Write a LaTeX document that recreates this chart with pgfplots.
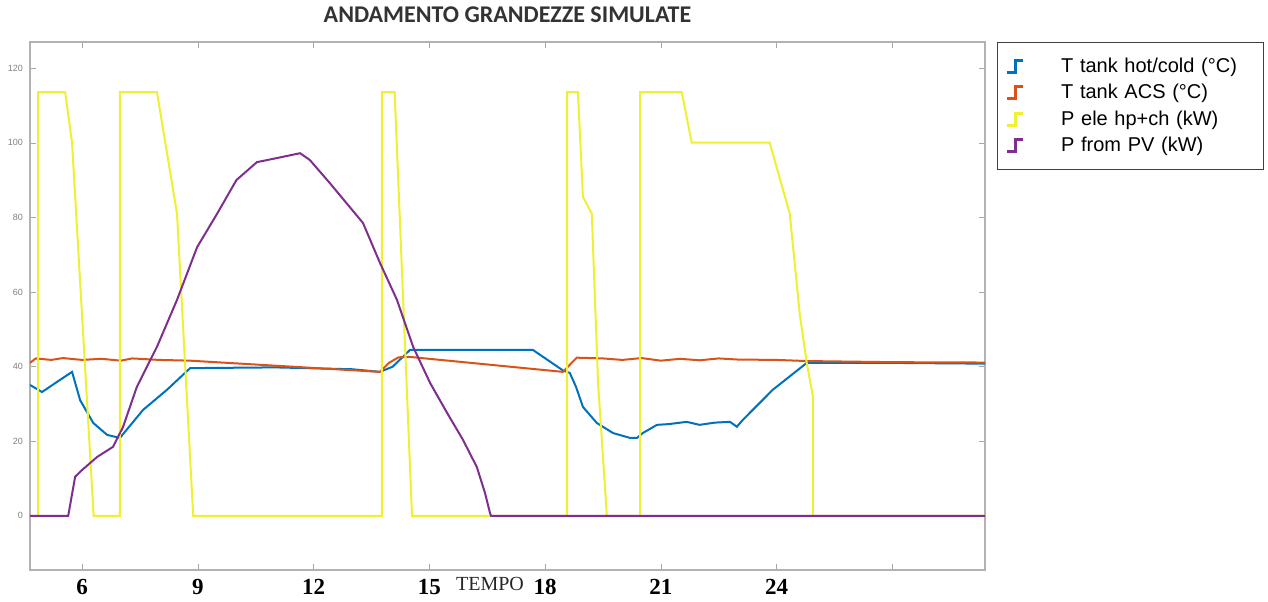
\documentclass[border=0pt]{standalone}
\usepackage{pgfplots}
\pgfplotsset{compat=1.18}
\usepackage{fontspec}
\setmainfont{Liberation Sans}
\newfontfamily\numfont{Liberation Serif}
\newfontfamily\titlefont{Carlito}

\definecolor{mblue}{RGB}{0,114,189}
\definecolor{morange}{RGB}{217,83,25}
\definecolor{myellow}{RGB}{240,240,50}
\definecolor{mpurple}{RGB}{126,47,142}

\begin{document}
\begin{tikzpicture}
% fixed page size: 1268x601 px at 0.5pt per px
\path[use as bounding box] (-15pt,-15.5pt) rectangle (619pt,285pt);
\begin{axis}[
    name=ax,
    at={(0,0)}, anchor=south west,
    scale only axis,
    width=477.5pt, height=264pt,
    xmin=4.65, xmax=29.4,
    ymin=-14.5, ymax=127,
    xtick={6,9,...,27},
    xticklabels={6,9,12,15,18,21,24,{}},
    ytick={0,20,...,120},
    tick align=inside,
    major tick length=3pt,
    tick style={gray!70},
    axis line style={gray!60, line width=0.8pt},
    x tick label style={font=\numfont\bfseries\fontsize{11.5}{13}\selectfont, yshift=-1pt},
    y tick label style={font=\fontsize{4.5}{5}\selectfont, text=gray},
    /pgf/number format/assume math mode=true,
    title={ANDAMENTO GRANDEZZE SIMULATE},
    title style={font=\titlefont\bfseries\fontsize{12}{14}\selectfont, text=black!80},
    legend style={at={(1.0126,1)}, anchor=north west, draw=black!75, line width=0.6pt,
        font=\fontsize{10}{12}\selectfont, inner xsep=4pt, inner ysep=5.5pt,
        row sep=0.5pt, nodes={text width=95pt, align=left}},
    legend cell align=left,
    legend image code/.code={
        \draw[#1, line width=1.5pt] (0pt,-3pt) -- (4pt,-3pt) -- (4pt,3pt) -- (8pt,3pt);
        \path[draw=none] (0pt,0pt) -- (25pt,0pt);
    },
    every axis plot/.append style={line width=1pt},
]
\addplot[mblue] coordinates {
    (4.65,35.1) (4.96,33.2) (5.74,38.6) (5.95,31) (6.29,24.9) (6.65,21.7) (6.98,20.9)
    (7.58,28.4) (8.2,33.8) (8.8,39.6) (11,39.8) (13.0,39.3) (13.72,38.6) (14.05,40)
    (14.5,44.5) (17.68,44.5) (18.46,39) (18.64,38.3) (18.8,34.6) (18.98,29.2)
    (19.34,24.9) (19.76,22.2) (20.2,20.9) (20.38,20.9) (20.53,22.2) (20.9,24.4)
    (21.2,24.6) (21.67,25.2) (22.0,24.4) (22.4,25.0) (22.79,25.2) (22.97,23.9)
    (23.12,25.7) (23.9,33.8) (24.78,41) (27,41) (29.4,40.8)
};
\addplot[morange] coordinates {
    (4.65,41) (4.8,42.2) (5.2,41.8) (5.5,42.3) (6,41.8) (6.5,42.1) (7,41.6) (7.3,42.2)
    (8,41.8) (8.8,41.6) (13.72,38.6) (13.95,41) (14.2,42.5) (14.5,42.6) (18.46,38.6)
    (18.82,42.4) (19.5,42.2) (20,41.8) (20.5,42.3) (21,41.6) (21.5,42.1) (22,41.7)
    (22.5,42.2) (23,41.9) (24,41.8) (24.78,41.5) (27,41.2) (29.4,41.1)
};
\addplot[myellow] coordinates {
    (4.65,0) (4.86,0) (4.86,113.6) (5.56,113.6) (5.74,100) (6.3,0) (6.98,0)
    (6.98,113.6) (7.94,113.6) (8.46,81) (8.88,0) (13.77,0) (13.77,113.6) (14.1,113.6)
    (14.55,0) (18.57,0) (18.57,113.6) (18.85,113.6) (18.98,85.5) (19.21,81) (19.37,36)
    (19.6,0) (20.46,0) (20.46,113.6) (21.54,113.6) (21.8,100) (23.82,100) (24.34,81)
    (24.6,54) (24.78,41) (24.94,32) (24.94,0) (29.4,0)
};
\addplot[mpurple] coordinates {
    (4.65,0) (5.64,0) (5.82,10.5) (6.0,12.3) (6.39,15.8) (6.8,18.5) (7.06,23.8)
    (7.42,34.6) (7.94,45.3) (8.46,57.9) (8.98,72) (9.5,81) (10.0,90) (10.53,94.8)
    (11.05,95.9) (11.65,97.2) (11.9,95.4) (12.42,89.2) (13.28,78.5) (13.72,67.8)
    (14.16,57.9) (14.58,45.3) (15.02,35.6) (15.46,27.6) (15.87,20.4) (16.23,13.1)
    (16.44,6.2) (16.57,0.8) (16.6,0) (29.4,0)
};
\legend{T tank hot/cold (°C), T tank ACS (°C), P ele hp+ch (kW), P from PV (kW)}
\end{axis}
\node[font=\numfont\fontsize{10}{12}\selectfont, text=black!85] at ([xshift=230pt,yshift=-7pt]ax.south west) {TEMPO};
\end{tikzpicture}
\end{document}
